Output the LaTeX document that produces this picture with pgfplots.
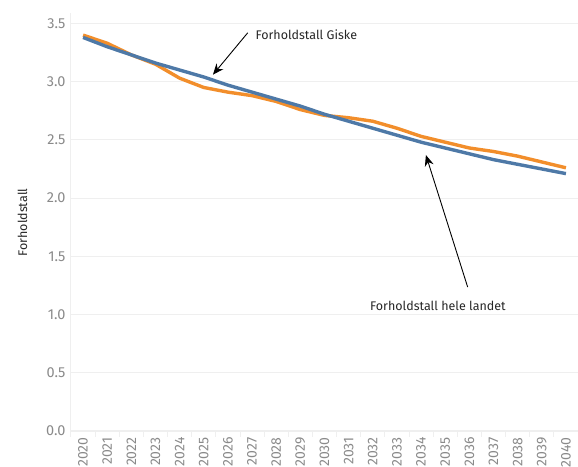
\documentclass[border=0pt]{standalone}
\usepackage{pgfplots}
\pgfplotsset{compat=1.18}
\usepackage{fontspec}
\setmainfont{Fira Sans}
\usetikzlibrary{arrows.meta}
\definecolor{tabblue}{HTML}{4E79A7}
\definecolor{taborange}{HTML}{F28E2B}
\definecolor{tickgrey}{HTML}{8A8A8A}
\definecolor{gridgrey}{HTML}{EFEFEF}

\begin{document}
\begin{tikzpicture}
  \begin{axis}[
    scale only axis,
    width=507pt, height=419pt,
    xmin=-0.5, xmax=20.5,
    ymin=-0.01, ymax=3.59,
    axis x line*=bottom, axis y line*=left,
    axis line style={draw=gridgrey, line width=1pt},
    xtick={0,...,20},
    xticklabels={2020,2021,2022,2023,2024,2025,2026,2027,2028,2029,2030,
                 2031,2032,2033,2034,2035,2036,2037,2038,2039,2040},
    minor xtick={-0.5,0.5,...,20.5},
    major tick length=0pt,
    minor tick length=5pt,
    tick align=outside,
    minor tick style={draw=gridgrey, line width=1pt},
    x tick label style={rotate=90, anchor=east, font=\fontsize{14}{16}\selectfont,
                        text=tickgrey, xshift=-2pt},
    ytick={0,0.5,...,3.5},
    y tick label style={font=\fontsize{14.5}{16}\selectfont, text=tickgrey, xshift=-2pt},
    yticklabel style={/pgf/number format/fixed, /pgf/number format/precision=1,
                      /pgf/number format/fixed zerofill},
    /pgf/number format/assume math mode=true,
    ymajorgrids,
    major grid style={draw=gridgrey, line width=1pt},
    ylabel={Forholdstall},
    ylabel style={font=\fontsize{12.5}{14}\selectfont, text=black!85, yshift=12pt},
    clip=false,
  ]
    % hele landet (orange)
    \addplot[taborange, line width=3.4pt, line join=round] coordinates {
      (0,3.40) (1,3.33) (2,3.23) (3,3.15) (4,3.03) (5,2.95) (6,2.91)
      (7,2.88) (8,2.83) (9,2.76) (10,2.71) (11,2.69) (12,2.66) (13,2.60)
      (14,2.53) (15,2.48) (16,2.43) (17,2.40) (18,2.36) (19,2.31) (20,2.26)};
    % Giske (blue)
    \addplot[tabblue, line width=3.4pt, line join=round] coordinates {
      (0,3.38) (1,3.30) (2,3.23) (3,3.16) (4,3.10) (5,3.04) (6,2.97)
      (7,2.91) (8,2.85) (9,2.79) (10,2.72) (11,2.66) (12,2.60) (13,2.54)
      (14,2.48) (15,2.43) (16,2.38) (17,2.33) (18,2.29) (19,2.25) (20,2.21)};

    \draw[-{Stealth[length=11pt,width=9pt]}, line width=0.9pt]
      (axis cs:6.82,3.42) -- (axis cs:5.38,3.06);
    \node[anchor=west, font=\fontsize{12.5}{14}\selectfont, text=black!85]
      at (axis cs:7.0,3.40) {Forholdstall Giske};
    \draw[-{Stealth[length=11pt,width=9pt]}, line width=0.9pt]
      (axis cs:15.93,1.235) -- (axis cs:14.2,2.37);
    \node[font=\fontsize{12.5}{14}\selectfont, text=black!85]
      at (axis cs:14.7,1.07) {Forholdstall hele landet};
  \end{axis}
  \pgfresetboundingbox
  \path ([xshift=-71pt,yshift=-35pt]current axis.south west)
        rectangle ([yshift=13pt]current axis.north east);
\end{tikzpicture}
\end{document}
